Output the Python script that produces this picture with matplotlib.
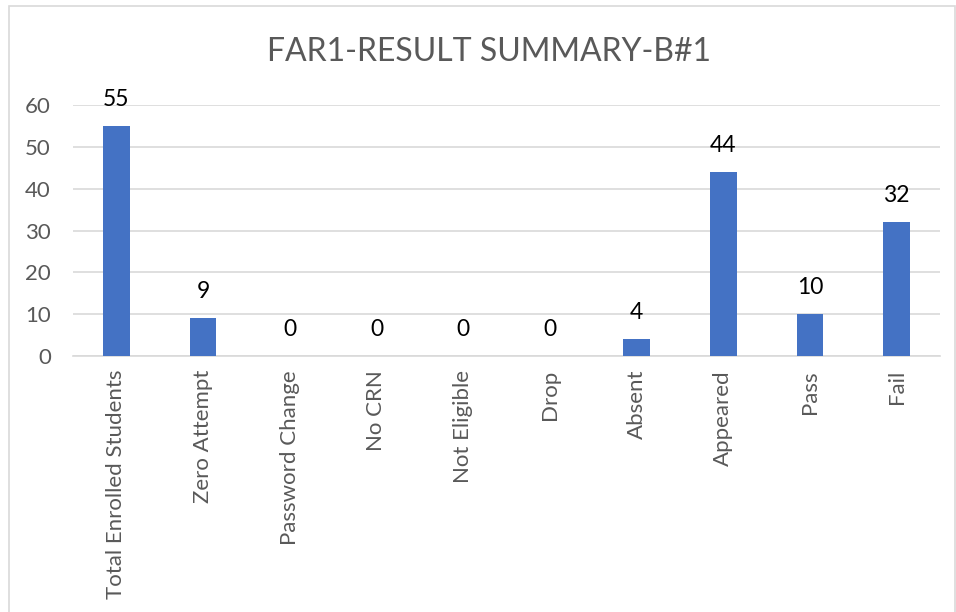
import matplotlib.pyplot as plt
from matplotlib.patches import Rectangle

categories = ["Total Enrolled Students", "Zero Attempt", "Password Change", "No CRN",
              "Not Eligible", "Drop", "Absent", "Appeared", "Pass", "Fail"]
values = [55, 9, 0, 0, 0, 0, 4, 44, 10, 32]
yticks = [0, 10, 20, 30, 40, 50, 60]

plt.rcParams['font.family'] = ['Lato', 'DejaVu Sans']

fig = plt.figure(figsize=(9.56, 6.12), dpi=100)
# chart border like Excel
fig.patches.append(Rectangle((9 / 956, -0.1), 0.99, 1 - 6 / 612 + 0.1, transform=fig.transFigure,
                             fill=False, edgecolor="#d9d9d9", linewidth=1.2))

ax = fig.add_axes([73 / 956, 1 - 356 / 612, (940 - 73) / 956, (356 - 105) / 612])
x = range(len(categories))
bars = ax.bar(x, values, width=0.31, color="#4472c4", zorder=3)
for xi, v in zip(x, values):
    ax.text(xi, v + 6.3, str(v), ha="center", va="center", fontsize=16.5, color="#000000")

ax.set_ylim(0, 60)
ax.set_xlim(-0.5, len(categories) - 0.5)
ax.set_yticks(yticks)
ax.yaxis.grid(True, color="#d9d9d9", linewidth=1.2, zorder=0)
ax.set_xticks(list(x))
ax.set_xticklabels(categories, rotation=90, fontsize=16, color="#595959")
ax.tick_params(axis="y", labelsize=16, labelcolor="#595959", length=0, pad=16)
ax.tick_params(axis="x", length=0, pad=10)
for s in ["top", "right", "left"]:
    ax.spines[s].set_visible(False)
ax.spines["bottom"].set_color("#d9d9d9")
ax.spines["bottom"].set_linewidth(1.2)

fig.text(489 / 956, 1 - 52 / 612, "FAR1-RESULT SUMMARY-B#1", ha="center", va="center",
         fontsize=23, color="#595959")

fig.savefig("out.png", dpi=100)
